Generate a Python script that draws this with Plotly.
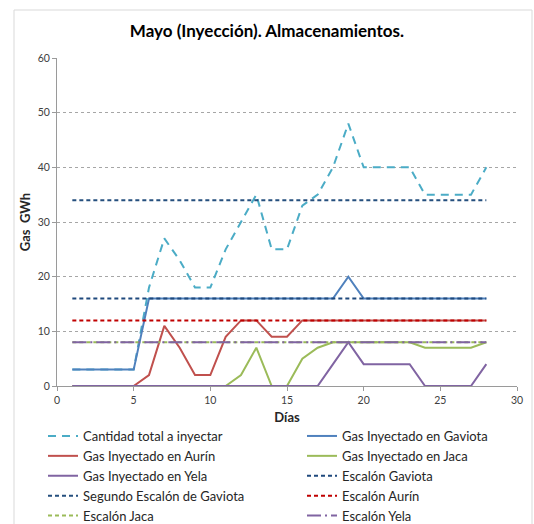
import plotly.graph_objects as go

# Days of May with injection data
days = list(range(1, 29))

total = [3, 3, 3, 3, 3, 18, 27, 23, 18, 18, 25, 30, 35, 25, 25, 33, 35, 40, 48, 40,
         40, 40, 40, 35, 35, 35, 35, 40]
gaviota = [3, 3, 3, 3, 3, 16, 16, 16, 16, 16, 16, 16, 16, 16, 16, 16, 16, 16, 20, 16,
           16, 16, 16, 16, 16, 16, 16, 16]
aurin = [0, 0, 0, 0, 0, 2, 11, 7, 2, 2, 9, 12, 12, 9, 9, 12, 12, 12, 12, 12,
         12, 12, 12, 12, 12, 12, 12, 12]
jaca = [0, 0, 0, 0, 0, 0, 0, 0, 0, 0, 0, 2, 7, 0, 0, 5, 7, 8, 8, 8,
        8, 8, 8, 7, 7, 7, 7, 8]
yela = [0, 0, 0, 0, 0, 0, 0, 0, 0, 0, 0, 0, 0, 0, 0, 0, 0, 4, 8, 4,
        4, 4, 4, 0, 0, 0, 0, 4]

# Capacity steps (constant over the month)
escalon_gaviota = 16
segundo_escalon_gaviota = 34
escalon_aurin = 12
escalon_jaca = 8
escalon_yela = 8

y_ticks = [0, 10, 20, 30, 40, 50, 60]
x_ticks = [0, 5, 10, 15, 20, 25, 30]

FONT = "Lato, 'Open Sans', sans-serif"

fig = go.Figure()


def add(name, y, color, dash, legend, width=2):
    fig.add_trace(go.Scatter(
        x=days, y=y, name=name, mode="lines", legend=legend,
        line=dict(color=color, dash=dash, width=width),
    ))


# Two legend columns: "legend" on the left, "legend2" on the right
add("Cantidad total a inyectar", total, "#4BACC6", "8px,6px", "legend")
add("Gas Inyectado en Gaviota", gaviota, "#4F81BD", "solid", "legend2")
add("Gas Inyectado en Aurín", aurin, "#C0504D", "solid", "legend")
add("Gas Inyectado en Jaca", jaca, "#9BBB59", "solid", "legend2")
add("Gas Inyectado en Yela", yela, "#8064A2", "solid", "legend")
add("Escalón Gaviota", [escalon_gaviota] * len(days), "#1F497D", "4px,3px", "legend2")
add("Segundo Escalón de Gaviota", [segundo_escalon_gaviota] * len(days), "#254F7E", "4px,3px", "legend")
add("Escalón Aurín", [escalon_aurin] * len(days), "#C00000", "4px,3px", "legend2")
add("Escalón Jaca", [escalon_jaca] * len(days), "#9BBB59", "4px,3px", "legend")
add("Escalón Yela", [escalon_yela] * len(days), "#8064A2", "14px,4px,2px,4px", "legend2")

legend_style = dict(
    orientation="v", xanchor="left", y=-0.1067, yanchor="top",
    font=dict(size=13, color="#262626", family=FONT),
    bgcolor="rgba(0,0,0,0)", itemwidth=30, tracegroupgap=0,
)

fig.update_layout(
    width=534, height=524,
    paper_bgcolor="white", plot_bgcolor="white",
    margin=dict(l=57, r=17, t=58, b=138, autoexpand=False),
    font=dict(family=FONT, color="#404040"),
    title=dict(
        text="<b>Mayo (Inyección). Almacenamientos.</b>",
        x=0.5, xanchor="center", y=1 - 31 / 524, yanchor="middle",
        font=dict(size=17, color="#000000", family=FONT),
    ),
    xaxis=dict(
        range=[0, 30], tickvals=x_ticks, showgrid=False, zeroline=False,
        showline=True, linecolor="#9a9a9a", linewidth=1,
        ticks="outside", ticklen=4, tickcolor="#9a9a9a",
        tickfont=dict(size=10.5, color="#404040"),
        title=dict(text="<b>Días</b>", font=dict(size=13, color="#262626"), standoff=8),
    ),
    yaxis=dict(
        range=[0, 60], tickvals=y_ticks, showgrid=True, gridcolor="#a6a6a6",
        griddash="dot", gridwidth=1, zeroline=False,
        showline=True, linecolor="#9a9a9a", linewidth=1,
        ticks="outside", ticklen=4, tickcolor="#9a9a9a",
        tickfont=dict(size=10.5, color="#404040"),
        title=dict(text="<b>Gas  GWh</b>", font=dict(size=13, color="#262626"), standoff=4),
    ),
    legend=dict(x=(43 - 57) / 460, **legend_style),
    legend2=dict(x=(302 - 57) / 460, **legend_style),
    shapes=[dict(
        type="rect", xref="paper", yref="paper",
        x0=-43 / 460, x1=(532 - 57) / 460, y0=-(524 - 386 + 10) / 328, y1=(386 - 10) / 328,
        line=dict(color="#d9d9d9", width=1), fillcolor="rgba(0,0,0,0)", layer="below",
    )],
)

fig.write_html("out.html")
